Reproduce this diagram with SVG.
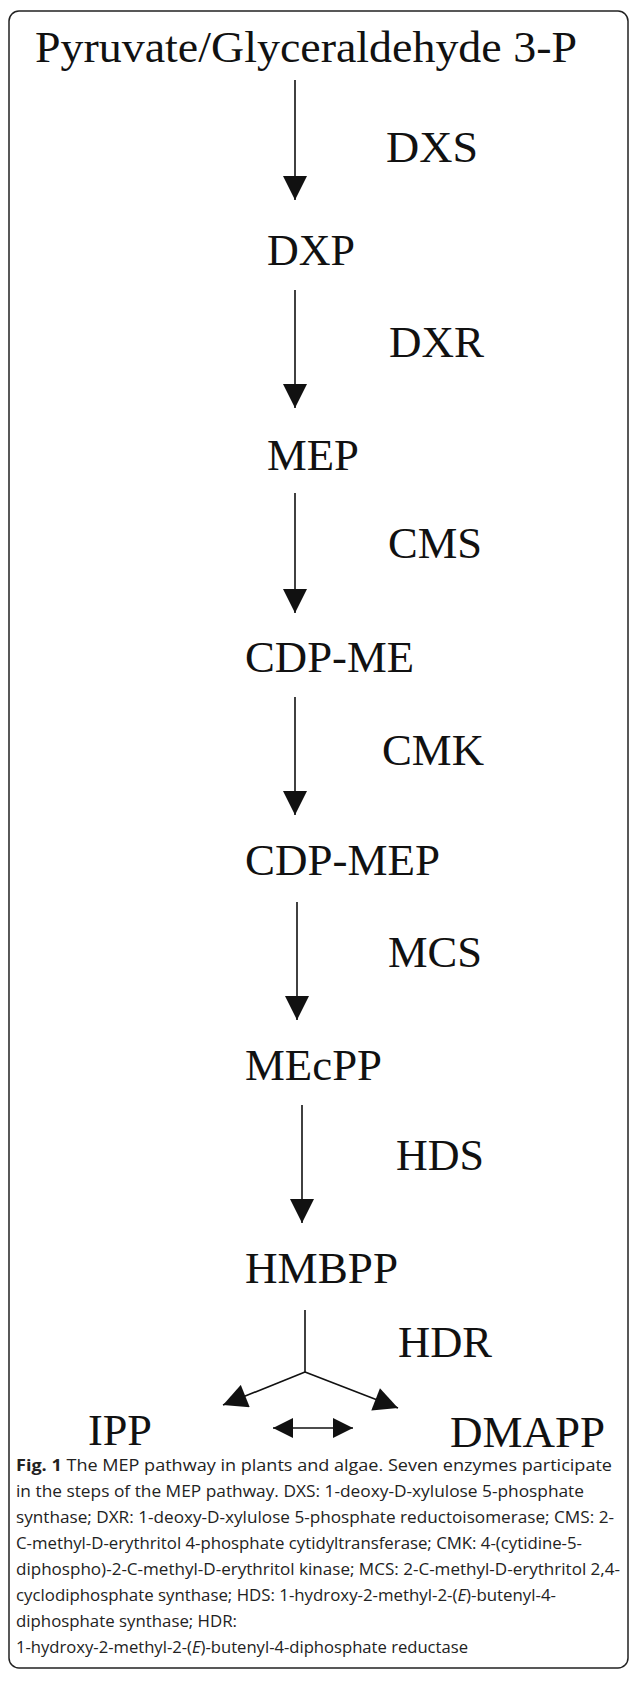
<svg xmlns="http://www.w3.org/2000/svg" width="630" height="1683" viewBox="0 0 630 1683">
<style>
.lbl{font-family:"Liberation Serif","Times New Roman",serif;font-size:45px;fill:#111}
.cap{font-family:"Open Sans","Noto Sans",sans-serif;font-size:16px;fill:#222}
.ln{stroke:#111;stroke-width:1.6;fill:none}
</style>
<defs>
<marker id="ah" viewBox="0 0 10 10" refX="10" refY="5" markerWidth="25" markerHeight="24" markerUnits="userSpaceOnUse" orient="auto">
<path d="M0,0 L10,5 L0,10 z" fill="#111"/>
</marker>
<marker id="ahs" viewBox="0 0 10 10" refX="10" refY="5" markerWidth="20" markerHeight="20" markerUnits="userSpaceOnUse" orient="auto-start-reverse">
<path d="M0,0 L10,5 L0,10 z" fill="#111"/>
</marker>
</defs>
<rect x="9" y="11" width="619" height="1657" rx="10" fill="#fff" stroke="#222" stroke-width="1.5"/>
<g id="connectors">
<line class="ln" x1="295" y1="80" x2="295" y2="200" marker-end="url(#ah)"/>
<line class="ln" x1="295" y1="290" x2="295" y2="408" marker-end="url(#ah)"/>
<line class="ln" x1="295" y1="493" x2="295" y2="613" marker-end="url(#ah)"/>
<line class="ln" x1="295" y1="697" x2="295" y2="815" marker-end="url(#ah)"/>
<line class="ln" x1="297" y1="902" x2="297" y2="1020" marker-end="url(#ah)"/>
<line class="ln" x1="302" y1="1105" x2="302" y2="1223" marker-end="url(#ah)"/>
<line class="ln" x1="305" y1="1310" x2="305" y2="1372"/>
<line class="ln" x1="305" y1="1372" x2="223" y2="1405" marker-end="url(#ah)"/>
<line class="ln" x1="305" y1="1372" x2="398" y2="1408" marker-end="url(#ah)"/>
<line class="ln" x1="273" y1="1428" x2="353" y2="1428" marker-start="url(#ahs)" marker-end="url(#ahs)"/>
</g>
<g id="title"><text class="lbl" x="35" y="62" textLength="542" lengthAdjust="spacingAndGlyphs">Pyruvate/Glyceraldehyde 3-P</text></g>
<g id="dxs"><text class="lbl" x="386" y="162" textLength="92" lengthAdjust="spacingAndGlyphs">DXS</text></g>
<g id="dxp"><text class="lbl" x="267" y="265" textLength="88" lengthAdjust="spacingAndGlyphs">DXP</text></g>
<g id="dxr"><text class="lbl" x="389" y="357" textLength="95" lengthAdjust="spacingAndGlyphs">DXR</text></g>
<g id="mep"><text class="lbl" x="267" y="470" textLength="92" lengthAdjust="spacingAndGlyphs">MEP</text></g>
<g id="cms"><text class="lbl" x="388" y="558" textLength="94" lengthAdjust="spacingAndGlyphs">CMS</text></g>
<g id="cdpme"><text class="lbl" x="245" y="672" textLength="169" lengthAdjust="spacingAndGlyphs">CDP-ME</text></g>
<g id="cmk"><text class="lbl" x="382" y="765" textLength="102" lengthAdjust="spacingAndGlyphs">CMK</text></g>
<g id="cdpmep"><text class="lbl" x="245" y="875" textLength="195" lengthAdjust="spacingAndGlyphs">CDP-MEP</text></g>
<g id="mcs"><text class="lbl" x="388" y="967" textLength="94" lengthAdjust="spacingAndGlyphs">MCS</text></g>
<g id="mecpp"><text class="lbl" x="245" y="1080" textLength="137" lengthAdjust="spacingAndGlyphs">MEcPP</text></g>
<g id="hds"><text class="lbl" x="396" y="1170" textLength="88" lengthAdjust="spacingAndGlyphs">HDS</text></g>
<g id="hmbpp"><text class="lbl" x="245" y="1283" textLength="153" lengthAdjust="spacingAndGlyphs">HMBPP</text></g>
<g id="hdr"><text class="lbl" x="398" y="1357" textLength="94" lengthAdjust="spacingAndGlyphs">HDR</text></g>
<g id="ipp"><text class="lbl" x="88" y="1445" textLength="64" lengthAdjust="spacingAndGlyphs">IPP</text></g>
<g id="dmapp"><text class="lbl" x="450" y="1447" textLength="155" lengthAdjust="spacingAndGlyphs">DMAPP</text></g>
<g id="caption">
<text class="cap" x="16" y="1471" textLength="596" lengthAdjust="spacingAndGlyphs"><tspan font-weight="bold">Fig. 1</tspan> The MEP pathway in plants and algae. Seven enzymes participate</text>
<text class="cap" x="16" y="1497" textLength="568" lengthAdjust="spacingAndGlyphs">in the steps of the MEP pathway. DXS: 1-deoxy-D-xylulose 5-phosphate</text>
<text class="cap" x="16" y="1523" textLength="598" lengthAdjust="spacingAndGlyphs">synthase; DXR: 1-deoxy-D-xylulose 5-phosphate reductoisomerase; CMS: 2-</text>
<text class="cap" x="16" y="1549" textLength="566" lengthAdjust="spacingAndGlyphs">C-methyl-D-erythritol 4-phosphate cytidyltransferase; CMK: 4-(cytidine-5-</text>
<text class="cap" x="16" y="1575" textLength="604" lengthAdjust="spacingAndGlyphs">diphospho)-2-C-methyl-D-erythritol kinase; MCS: 2-C-methyl-D-erythritol 2,4-</text>
<text class="cap" x="16" y="1601" textLength="540" lengthAdjust="spacingAndGlyphs">cyclodiphosphate synthase; HDS: 1-hydroxy-2-methyl-2-(<tspan font-style="italic">E</tspan>)-butenyl-4-</text>
<text class="cap" x="16" y="1627" textLength="221" lengthAdjust="spacingAndGlyphs">diphosphate synthase; HDR:</text>
<text class="cap" x="16" y="1653" textLength="452" lengthAdjust="spacingAndGlyphs">1-hydroxy-2-methyl-2-(<tspan font-style="italic">E</tspan>)-butenyl-4-diphosphate reductase</text>
</g>
</svg>
